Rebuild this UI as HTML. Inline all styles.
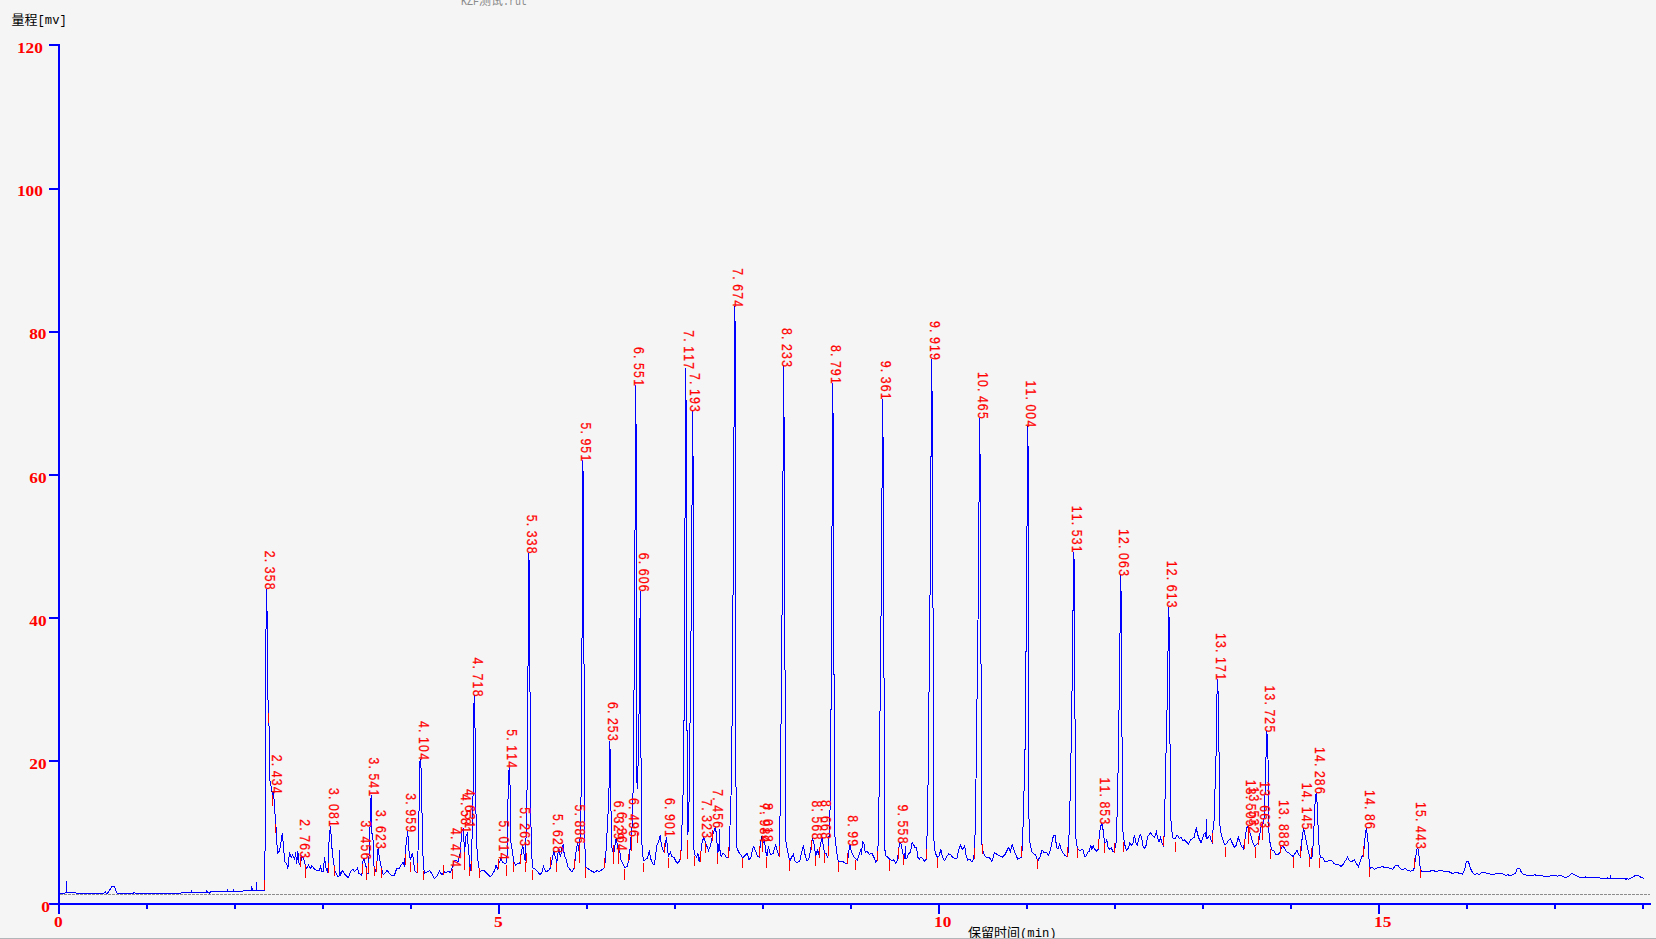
<!DOCTYPE html>
<html lang="zh">
<head>
<meta charset="utf-8">
<title>KZF测试.rut</title>
<style>
html,body{margin:0;padding:0;background:#f5f5f5;overflow:hidden}
body{width:1656px;height:939px;position:relative;font-family:"Liberation Sans","Noto Sans CJK SC",sans-serif}
svg{position:absolute;left:0;top:0;display:block}
.ax{fill:#0000ff;shape-rendering:crispEdges}
.tr{fill:none;stroke:#0000ff;stroke-width:1;shape-rendering:crispEdges;stroke-linejoin:miter}
.mk{fill:none;stroke:#ff0000;stroke-width:1;shape-rendering:crispEdges}
.bl{stroke:#8c8c8c;stroke-width:1;stroke-dasharray:3 1;shape-rendering:crispEdges}
.num{font-family:"Liberation Serif",serif;font-weight:bold;font-size:15px;fill:#ff0000}
.pk{font-family:"Liberation Sans",sans-serif;font-size:14.5px;fill:#ff0000;stroke:#ff0000;stroke-width:0.25px}
.cap{font-family:"Liberation Mono","Noto Sans CJK SC",monospace;font-size:13px;fill:#000}
.asc{font-size:12.2px}
.ttl{font-family:"Liberation Mono","Noto Sans CJK SC",monospace;font-size:12px;fill:#8a8a8a}
</style>
</head>
<body>
<svg width="1656" height="939" viewBox="0 0 1656 939">
<rect width="1656" height="939" fill="#f5f5f5"/>
<text class="ttl" y="5.2"><tspan x="461" textLength="18" lengthAdjust="spacingAndGlyphs">KZF</tspan><tspan x="479" font-size="12">测试</tspan><tspan x="503" textLength="24" lengthAdjust="spacingAndGlyphs">.rut</tspan></text>
<text class="cap" x="11.5" y="23.5">量程<tspan class="asc">[mv]</tspan></text>
<line class="bl" x1="60" y1="894.5" x2="1650" y2="894.5"/>
<g class="ax">
<rect x="58" y="44" width="2" height="870"/>
<rect x="49" y="903" width="1602" height="2"/>
<rect x="49" y="44" width="9" height="2"/>
<rect x="49" y="188" width="9" height="2"/>
<rect x="49" y="331" width="9" height="2"/>
<rect x="49" y="474" width="9" height="2"/>
<rect x="49" y="617" width="9" height="2"/>
<rect x="49" y="760" width="9" height="2"/>
<rect x="146" y="905" width="2" height="4"/>
<rect x="234" y="905" width="2" height="4"/>
<rect x="322" y="905" width="2" height="4"/>
<rect x="410" y="905" width="2" height="4"/>
<rect x="498" y="905" width="2" height="9"/>
<rect x="586" y="905" width="2" height="4"/>
<rect x="674" y="905" width="2" height="4"/>
<rect x="762" y="905" width="2" height="4"/>
<rect x="850" y="905" width="2" height="4"/>
<rect x="938" y="905" width="2" height="9"/>
<rect x="1026" y="905" width="2" height="4"/>
<rect x="1114" y="905" width="2" height="4"/>
<rect x="1202" y="905" width="2" height="4"/>
<rect x="1290" y="905" width="2" height="4"/>
<rect x="1378" y="905" width="2" height="9"/>
<rect x="1466" y="905" width="2" height="4"/>
<rect x="1554" y="905" width="2" height="4"/>
<rect x="1642" y="905" width="2" height="4"/>
</g>
<polyline class="tr" points="59.4,891.9 60.4,893.8 61.8,893.3 63.9,893.8 66,892.2 66.4,880.8 66.7,892.2 75.7,892.2 76.4,893.3 103.5,893.3 105.6,891.2 106.2,893.3 107.6,893.1 109.7,889.9 112.2,886.1 114.6,886.1 115.3,889.9 117.4,893.3 133.3,893.3 134.3,892.2 135,893.3 180.6,893.3 181.7,892.2 191,892.2 191.4,891.2 191.9,892.2 206.2,892.2 206.7,889.9 207.2,892.2 209.7,893.1 211.1,891.2 227.1,891.2 227.5,890.1 228.1,891.2 233.1,891.2 233.6,890.1 234.2,891.2 242.8,891.2 243.3,890.3 251.1,890.3 251.4,887.1 252.8,890.3 256.2,890.3 256.5,881.9 256.8,890.3 264.6,890.3 264.6,863.2 265.6,833.2 265.6,650 266.8,588.6 267.4,650 268,700 269.9,749 269.9,780 271.3,788 272.3,794 273.3,791.7 274.2,801.3 275.3,818.6 276.6,833.2 277.3,853.2 278.6,852.5 279.9,849.2 282.3,833.2 283.3,843.9 284.6,861.2 286.6,863.8 287.9,868.5 289.5,852.5 291.2,857.2 292.6,854.5 294.6,859.9 295.6,852.5 296.6,863.8 297.9,851.2 298.6,862.5 300.2,865.2 301.9,855.9 303.6,858.5 305.2,865.2 306.5,868.5 308.5,865.2 310.5,868.5 311.9,865.8 313.9,868.5 316.5,870.5 319.2,870.5 320.5,866.5 321.8,871.8 323.2,871.8 324.5,857.2 325.8,867.8 327.8,873.2 329.2,837.2 330.5,825.9 331.8,846.5 333.2,859.9 335.2,871.8 337.8,876.5 339.1,875.8 339.5,849.9 340.1,875.8 342.5,870.5 345.1,874.5 348.5,877.8 350.5,871.8 353.1,869.2 354.5,871.8 355.8,870.5 357.8,867.8 358.4,873.2 361.8,875.2 363.1,859.9 363.8,858.5 365.8,865.2 367.1,873.2 368.4,873.2 369.8,833.2 371.1,795.3 371.8,833.2 372.8,833.2 373.8,865.2 375.7,871.8 377.1,859.9 378.1,847.9 379.7,859.9 381.7,869.2 383.1,874.5 385.1,873.2 387.1,870.5 389.7,873.8 392.4,875.8 394.4,875.2 397,867.8 399,869.2 401,865.2 403,862.5 404.4,866.5 406.1,843.9 407.7,831.2 409,850.5 410.3,859.9 412.3,853.2 413.7,859.9 414.3,870.5 417,873.2 418.3,843.9 419.7,780 419.9,763.2 420.1,759 420.7,763.2 421.7,780 422.3,843.9 423.4,862.5 424.3,873.2 426.3,872.5 429.6,870.5 431.6,873.2 434.3,878.5 437,875.8 439.6,871.2 440,871.8 442,875.2 444,871.8 446,872.5 448,871.2 450.6,872.5 452.2,867.8 454,861.2 456,859.9 458,862.5 460,854.5 462,830.6 463.3,829.2 464.6,851.9 466,835.9 467.3,833.2 468.2,846.5 469,854.5 469.9,871.8 471.3,862.5 472.6,819.9 473.3,780 473.8,712.4 474.2,695.5 474.8,712.4 475.7,780 476.2,833.2 477.3,854.5 478.6,866.5 479.9,871.8 481.9,870.5 483.9,870.5 486.6,873.2 489.9,876.5 491.9,875.2 494.6,870.5 495.9,865.2 497.5,868.5 499.2,862.5 501,858.5 502.5,862.5 504.5,863.2 505.9,863.8 507.2,854.5 508.1,793.3 508.9,784 509,770.6 509.1,767.2 509.6,772.4 510.3,793.3 510.8,841.2 512.5,851.9 513.9,862.5 515.9,865.2 517.9,863.2 519.9,863.2 521.4,851.9 522.8,845.2 524.1,854.5 525.2,861.2 526.2,833.2 527.2,780 528.1,655 528.5,559.5 528.5,552.7 528.5,559.5 529.5,561.5 529.8,655 530.5,780 531.2,843.9 532.5,867.8 534.5,868.5 537.2,871.2 539.8,874.5 541.8,873.2 543.5,866.5 545.8,871.8 548.5,870.5 550.5,867.8 552.5,857.2 553.8,851.9 555.1,855.9 556.8,862.5 558.2,851.9 559.1,849.2 560.4,857.2 561.8,849.2 563.1,844.5 564.4,855.9 566.4,859.9 567.8,866.5 569.8,869.2 571.8,871.8 573.8,869.2 575.1,859.9 576.4,849.2 577.7,842.5 579.1,851.9 580.4,833.2 581.3,780 582.2,604.2 582.5,469.9 582.5,460.3 582.5,469.9 583.5,471.9 583.8,604.2 584.4,780 584.8,843.9 585.7,866.5 587.7,868.5 590.4,870.5 594.4,872.5 597,870.5 599,871.8 601.7,869.8 604.4,867.8 605.7,857.2 607,833.2 608.4,806.6 609.3,780 609.4,748.5 609.5,740.6 610,748.5 610.7,780 611.1,819.9 611.7,846.5 613.7,854.5 615.4,842.5 616.3,837.9 617.7,847.9 619,851.9 619.7,850.5 621,859.9 623,863.8 625,867.8 627,866.5 629,859.9 630.3,846.5 631.1,835.9 631.8,834.6 632.6,806.6 633.4,780 634.9,562.8 635.5,396.9 635.5,385 635.5,423.5 636.5,425.5 636.6,562.8 636.9,780 637.3,789 637.9,770 638.7,745 640.3,590.7 641.1,780 641.3,833.2 642.7,855.9 644,861.2 645.3,859.2 647.3,858.5 649.3,850.5 650.6,858.5 652.6,863.2 654,865.2 655.3,858.5 656.6,846.5 658.6,841.2 660.2,835.2 661.3,843.9 662.6,849.2 664.2,851.9 665.6,842.5 666.6,837.2 667.5,849.2 668.6,856.5 670.3,851.9 671.9,856.5 673.9,857.2 675.9,861.2 677.9,863.2 679.9,859.9 681.3,849.2 682.6,804 683.7,780 684.9,553.5 685.5,380.5 685.5,368.1 685.5,399 686.5,401 686.7,553.5 687.1,780 687.9,834.6 688.7,819.9 689.4,780 691.6,577 692.5,422 692.5,410.9 692.5,455.2 693.5,457.2 693.5,577 693.2,780 693.5,846.5 694.8,854.5 696.6,857.2 697.9,853.2 699.2,861.8 700.6,854.5 701.9,843.9 703.6,837.2 705.2,841.2 706.5,845.2 708.5,850.5 710.3,846.5 711.9,838.6 713.2,833.2 714.5,829.2 715.6,826.6 716.5,837.2 717.9,851.9 718.8,850.5 719.5,829.2 720,850.5 721.2,857.2 722.5,853.2 724.5,854.5 726.5,857.9 728.5,857.9 729.4,846.5 730.5,809.3 731.6,780 733.6,519.4 734.5,320.4 734.5,306.2 734.5,320.4 735.5,322.4 735.5,519.4 735.6,780 736.4,793.3 736.6,846.5 738.5,851.9 740.5,854.5 742.5,857.9 744.5,855.9 747.1,853.2 749.1,859.9 751.1,857.2 752.5,849.2 753.8,846.5 755.8,851.9 757.8,856.5 759.1,857.2 760.4,843.9 761.8,835.9 763.1,842.5 764.4,839.9 765.8,851.9 767.1,855.9 768.4,846.5 769.8,852.5 771.1,854.5 773.1,853.2 774.4,849.2 775.7,844.5 777.1,850.5 779.1,855.9 779.7,839.9 780.5,780 782.6,552.3 783.5,378.4 783.5,366 783.5,415.7 784.5,417.7 784.7,552.3 785.3,780 785.7,839.9 787.7,851.9 789.7,861.2 791.7,857.2 793.4,853.9 795,861.2 797,862.5 799.7,861.2 801.7,851.9 803.4,845.2 805,854.5 807,861.2 809,858.5 810.3,851.9 811.7,842.5 812.7,838.6 814.3,845.2 815.7,855.9 817.3,850.5 818.3,854.5 819.7,847.9 821,842.5 822.1,837.2 823.4,846.5 824.7,853.2 826.3,853.9 827.9,857.9 829.2,833.2 830,810.6 830.6,780 831.9,561.5 832.5,394.7 832.5,382.8 832.5,412.6 833.5,414.6 833.7,561.5 834.3,780 835,837.2 836.7,851.9 838.3,861.2 839.6,861.6 840,861.4 842.7,861.4 845.3,863.2 847.3,863.8 848.7,851.9 850,845.2 851.3,851.9 853.3,855.9 855.3,858.5 857.3,860.5 859.3,854.5 860.6,849.2 861.3,854.5 862.6,841.9 864,843.9 865.3,852.5 867.3,851.2 869.3,854.5 871.9,853.2 873.9,857.2 875.7,861.8 877.3,860.5 878.3,839.9 879.3,780 881.5,570.3 882.5,410.1 882.5,398.7 882.5,435.9 883.5,437.9 883.7,570.3 884.3,780 884.6,847.9 885.9,855.9 887.9,857.2 889.9,859.2 891.9,860.5 893.9,859.9 895.9,863.2 897.5,859.9 898.6,849.2 899.9,842.5 901.2,843.9 902.5,852.5 903.9,857.2 904.9,858.5 905.2,846.5 905.6,858.5 907.2,857.9 908.5,853.9 910.5,851.9 912.1,842.5 913.9,845.2 915.2,847.9 916.5,847.9 917.9,857.2 919.2,859.2 920.5,857.2 922.5,858.5 924.5,861.2 926.2,859.2 927.2,830.6 928.1,780 930.5,548.4 931.5,371.5 931.5,358.9 931.5,390.5 932.5,392.5 932.8,548.4 933.6,780 934,841.2 935.2,852.5 937.2,857.2 939.1,855.9 940.9,849.2 942.5,857.2 944.5,860.5 946.5,857.2 948.5,853.9 950.5,854.5 952.5,857.2 954.5,858.5 957.1,857.9 958.4,850.5 960.4,845.2 962.4,849.2 963.8,847.9 964.8,845.9 965.8,854.5 967.8,859.9 969.8,859.2 971.8,861.8 973.8,859.2 975.1,833.2 976,780 978.5,580.8 979.5,428.7 979.5,417.8 979.5,453.1 980.5,455.1 980.8,580.8 981.3,780 981.7,842.5 983.1,851.9 985.1,855.9 987.1,857.9 989.1,857.2 991.7,861.2 993,858.5 994.4,852.5 997,854.5 999.7,855.9 1002.4,857.2 1005,854.5 1007,850.5 1008.8,847.2 1010.3,851.9 1012.3,843.9 1013.7,849.2 1015.7,854.5 1017.7,859.2 1019.7,858.5 1021.3,857.2 1022.6,845.2 1023.7,796 1024.7,780 1026.7,585.5 1027.5,436.9 1027.5,426.3 1027.5,444.9 1028.5,446.9 1028.5,585.5 1028.3,780 1028.7,806.6 1029.6,841.2 1031.6,851.2 1033.6,853.9 1035.6,854.5 1037.6,861.2 1039,858.5 1040,857.2 1042,849.9 1044,852.5 1046,851.9 1048.7,855.2 1050.6,849.2 1052.6,838.6 1054,835.2 1055.3,835.9 1056.6,847.9 1058,849.2 1059.7,843.9 1061,849.2 1063.3,853.2 1065.3,855.9 1067.3,856.5 1068.6,849.2 1069.5,818.6 1070.6,780 1072.6,654.4 1073.5,558.5 1073.5,551.6 1073.5,558.5 1074.5,560.5 1074.7,654.4 1075.3,780 1075.7,837.2 1077.3,847.9 1079.3,850.5 1081.3,849.9 1082.9,849.9 1084.6,856.5 1086.3,855.9 1087.9,851.9 1089.5,851.2 1090.6,845.2 1091.9,849.2 1093.2,845.9 1094.6,849.2 1096.6,851.2 1098.3,849.2 1099.2,835.9 1100.6,826.6 1101.9,823.3 1103.2,830.6 1104.5,842.5 1105.9,842.5 1106.5,838.6 1107.9,846.5 1109.2,849.2 1111.2,847.9 1112.9,851.2 1114.3,852.5 1115.2,846.5 1116.1,842.5 1116.9,821.3 1117.9,780 1119.7,667.2 1120.5,581.1 1120.5,575 1120.5,590.4 1121.5,592.4 1121.7,667.2 1122.2,780 1122.8,830.6 1123.8,838.6 1125.2,846.5 1126.5,849.9 1128.5,847.9 1129.8,842.5 1131.8,845.9 1133.2,842.5 1134.5,834.6 1135.6,842.5 1137.2,845.2 1139.1,837.2 1140.5,834.6 1141.8,838.6 1143.1,846.5 1144.5,848.5 1146.2,845.2 1147.5,837.2 1149.1,834.6 1150.5,832.6 1152.5,835.9 1154.5,837.2 1156.4,831.9 1157.8,838.6 1159.1,841.9 1160.4,837.2 1161.8,842.5 1163.5,845.9 1164.4,830.6 1165.4,780 1167.6,684.7 1168.5,611.9 1168.5,606.7 1168.5,615.8 1169.5,617.8 1169.7,684.7 1170.2,780 1170.7,817.3 1171.8,830.6 1173.1,838.6 1175.1,838.6 1176.4,835.9 1177.7,835.2 1179.1,838.6 1181.1,837.2 1183.1,841.2 1184.4,839.9 1186.4,841.9 1188.4,843.9 1190.4,839.9 1192.4,838.6 1194.4,837.2 1195.4,830.6 1196.4,828.6 1197.7,834.6 1199,838.6 1201,842.5 1202.4,838.6 1204.4,833.2 1205.7,832.6 1206.1,838.6 1206.4,818.6 1206.8,838.6 1208.4,837.2 1209.7,835.2 1211,839.9 1212.3,842.5 1213,830.6 1214.1,819.9 1214.7,793.3 1215.7,780 1216.8,699.2 1217.6,679 1218.3,699.2 1219.4,780 1219.9,825.2 1221,833.2 1223,839.9 1225,845.2 1226.3,843.9 1228.3,840.6 1230.3,838.6 1232.3,843.2 1234.3,847.2 1236.3,845.2 1238.3,836.6 1239.6,841.9 1240,841.9 1241.3,845.9 1243.3,848.5 1244.7,841.2 1246,831.9 1247.3,825.9 1248.7,830.6 1250,832.6 1251.3,837.2 1252.6,842.5 1254.6,845.9 1256.6,844.5 1258.6,842.5 1260,833.2 1261.3,825.2 1262.6,822.6 1263.7,823.9 1264.6,806.6 1265.6,780 1266.3,741 1266.8,731.3 1267.5,741 1268.6,780 1269,833.2 1270.3,845.2 1271.9,849.9 1273.9,850.5 1275.9,854.5 1277.9,854.5 1279.9,852.5 1281.3,847.9 1282.9,845.9 1284.6,848.5 1286.6,851.9 1288.6,852.5 1290.6,854.5 1293.2,856.5 1295.2,853.2 1297,850.5 1298.6,854.5 1300.2,856.5 1301.2,849.2 1302.3,835.9 1303.6,828.6 1304.9,834.6 1306.5,842.5 1308.5,851.9 1310.3,858.5 1311.9,857.9 1313.2,843.9 1314.3,819.9 1315.2,800 1316.1,793.3 1317.2,804 1318.3,833.2 1319.6,854.5 1321.2,857.9 1322.5,857.2 1324.5,861.2 1326.5,861.8 1329.2,860.5 1331.8,860.5 1333.8,863.2 1335.8,864.5 1338.5,864.5 1341.1,866.5 1343.1,864.5 1345.1,861.2 1347.5,857.2 1349.1,860.5 1351.1,861.8 1354.2,859.9 1356.4,863.8 1358.4,866.5 1360.4,861.2 1362.2,855.9 1363.5,856.5 1364.4,843.9 1365.8,830.6 1366.4,827.9 1367.8,838.6 1369.1,859.9 1370.2,868.5 1372,867.2 1374.4,869.2 1377.1,867.8 1379.7,867.8 1382.4,866.5 1385.1,867.8 1387.7,867.2 1390.4,868.5 1393,869.2 1395,865.8 1397.7,865.2 1399.7,867.8 1402.4,869.8 1405,868.5 1407.7,870.5 1410.3,871.2 1413,870.5 1414.3,867.8 1415.7,857.2 1417,849.2 1417.9,847.9 1419,855.9 1420.3,868.5 1421.7,871.2 1425,871.8 1429,871.8 1431.6,870.5 1435.6,871.2 1436,871.5 1439.3,870.5 1442,870.5 1444,871.5 1448,871.2 1449.9,872.2 1452.6,873.5 1455.3,872.2 1457.9,872.8 1459.9,873.5 1462.6,874.2 1464.6,870.2 1466.3,861.5 1468.5,861.5 1469.9,866.9 1471.9,871.5 1474.5,874.4 1477.2,873.5 1479.2,874.4 1482.5,872.2 1485.2,872.8 1488.5,873.5 1490.5,874.4 1494.5,874.2 1497.1,873.1 1501.1,873.5 1503.8,874.4 1505.7,875.2 1507.7,874.8 1510.4,875.5 1513.1,874.8 1515.7,872.8 1517.3,868.6 1519.7,868.6 1521,871.5 1523,874.2 1526.3,875.2 1533.6,875.2 1534.6,874.4 1535.6,875.2 1542.3,875.5 1543.6,876.2 1549.6,876.2 1550.9,875.2 1555.6,875.5 1557.6,876.2 1559.6,875.2 1562.2,876.2 1565.5,877.5 1568.9,876.2 1571.5,873.5 1573.5,874.2 1576.8,875.8 1579.5,877.5 1584.8,877.5 1585.5,876.6 1586.1,877.5 1599.4,877.5 1600.7,878.4 1606.7,878.4 1607.4,877.5 1608,878.4 1610,878.4 1610.3,874.8 1610.6,878.4 1624.7,878.4 1626,879.5 1627.3,878.4 1628.6,879.2 1631.3,877.9 1634,876.2 1636.6,875.2 1638.6,875.8 1641.3,877.5 1643.9,878.4"/>
<path class="mk" d="M264.5 880V890M272.5 795V806M275.5 824V833M300.5 857V867M305.5 865V878M328.5 863V873M334.5 866V876M362.5 864V874M366.5 868V880M368.5 863V873M374.5 867V876M376.5 861V872M381.5 868V878M405.5 854V865M410.5 862V872M417.5 863V873M423.5 871V880M443.5 865V875M452.5 869V879M464.5 852V870M469.5 867V876M471.5 861V871M479.5 868V878M498.5 859V869M506.5 865V876M513.5 862V872M520.5 854V864M525.5 862V872M526.5 853V863M532.5 870V880M550.5 857V867M556.5 863V872M574.5 859V869M579.5 845V863M585.5 867V878M604.5 858V868M613.5 845V864M618.5 845V864M624.5 869V880M628.5 854V861M631.5 836V851M637.5 833V843M643.5 863V872M664.5 843V853M668.5 858V868M680.5 850V860M687.5 840V859M694.5 856V866M700.5 851V862M705.5 843V853M712.5 830V841M717.5 853V864M728.5 847V858M742.5 858V868M759.5 846V857M762.5 841V852M766.5 857V868M779.5 846V857M789.5 860V871M811.5 840V850M815.5 856V866M819.5 847V858M824.5 853V863M828.5 846V856M838.5 862V872M847.5 853V864M855.5 860V870M877.5 851V861M889.5 860V871M898.5 848V859M903.5 855V865M926.5 849V859M937.5 858V868M974.5 848V859M982.5 844V854M1021.5 846V857M1037.5 859V869M1067.5 847V857M1077.5 848V858M1098.5 839V849M1104.5 843V853M1114.5 843V853M1123.5 842V852M1163.5 836V846M1175.5 842V852M1212.5 833V843M1225.5 847V857M1244.5 839V849M1248.5 826V844M1255.5 847V858M1258.5 836V845M1262.5 823V840M1270.5 849V859M1280.5 845V853M1293.5 857V868M1300.5 846V857M1309.5 857V867M1311.5 848V857M1319.5 858V868M1363.5 846V857M1369.5 867V877M1414.5 858V868M1420.5 869V878M264.5 880V890M268.5 713V723"/>
<g class="pk">
<text transform="translate(265.1 588.6) rotate(90) scale(0.85 1)" x="-44.6 -35.2 -25.8 -16.4 -6.9" y="0">2.358</text>
<text transform="translate(271.5 792.6) rotate(90) scale(0.85 1)" x="-44.6 -35.2 -25.8 -16.4 -6.9" y="0">2.434</text>
<text transform="translate(300.4 857.2) rotate(90) scale(0.85 1)" x="-44.6 -35.2 -25.8 -16.4 -6.9" y="0">2.763</text>
<text transform="translate(328.6 825.9) rotate(90) scale(0.85 1)" x="-44.6 -35.2 -25.8 -16.4 -6.9" y="0">3.081</text>
<text transform="translate(361.4 858.5) rotate(90) scale(0.85 1)" x="-44.6 -35.2 -25.8 -16.4 -6.9" y="0">3.456</text>
<text transform="translate(369.2 795.3) rotate(90) scale(0.85 1)" x="-44.6 -35.2 -25.8 -16.4 -6.9" y="0">3.541</text>
<text transform="translate(376.3 847.9) rotate(90) scale(0.85 1)" x="-44.6 -35.2 -25.8 -16.4 -6.9" y="0">3.623</text>
<text transform="translate(405.9 831.2) rotate(90) scale(0.85 1)" x="-44.6 -35.2 -25.8 -16.4 -6.9" y="0">3.959</text>
<text transform="translate(418.5 759) rotate(90) scale(0.85 1)" x="-44.6 -35.2 -25.8 -16.4 -6.9" y="0">4.104</text>
<text transform="translate(451 866) rotate(90) scale(0.85 1)" x="-44.6 -35.2 -25.8 -16.4 -6.9" y="0">4.474</text>
<text transform="translate(460.9 832) rotate(90) scale(0.85 1)" x="-44.6 -35.2 -25.8 -16.4 -6.9" y="0">4.581</text>
<text transform="translate(465.1 827) rotate(90) scale(0.85 1)" x="-44.6 -35.2 -25.8 -16.4 -6.9" y="0">4.631</text>
<text transform="translate(472.5 695.5) rotate(90) scale(0.85 1)" x="-44.6 -35.2 -25.8 -16.4 -6.9" y="0">4.718</text>
<text transform="translate(498.5 858.5) rotate(90) scale(0.85 1)" x="-44.6 -35.2 -25.8 -16.4 -6.9" y="0">5.014</text>
<text transform="translate(507.4 767.2) rotate(90) scale(0.85 1)" x="-44.6 -35.2 -25.8 -16.4 -6.9" y="0">5.114</text>
<text transform="translate(520.4 845.2) rotate(90) scale(0.85 1)" x="-44.6 -35.2 -25.8 -16.4 -6.9" y="0">5.263</text>
<text transform="translate(527 552.7) rotate(90) scale(0.85 1)" x="-44.6 -35.2 -25.8 -16.4 -6.9" y="0">5.338</text>
<text transform="translate(552.6 851.9) rotate(90) scale(0.85 1)" x="-44.6 -35.2 -25.8 -16.4 -6.9" y="0">5.628</text>
<text transform="translate(575.3 842.5) rotate(90) scale(0.85 1)" x="-44.6 -35.2 -25.8 -16.4 -6.9" y="0">5.886</text>
<text transform="translate(581.2 460.3) rotate(90) scale(0.85 1)" x="-44.6 -35.2 -25.8 -16.4 -6.9" y="0">5.951</text>
<text transform="translate(607.8 739.8) rotate(90) scale(0.85 1)" x="-44.6 -35.2 -25.8 -16.4 -6.9" y="0">6.253</text>
<text transform="translate(614.3 838.6) rotate(90) scale(0.85 1)" x="-44.6 -35.2 -25.8 -16.4 -6.9" y="0">6.329</text>
<text transform="translate(617.3 849.9) rotate(90) scale(0.85 1)" x="-44.6 -35.2 -25.8 -16.4 -6.9" y="0">6.364</text>
<text transform="translate(628.9 835.9) rotate(90) scale(0.85 1)" x="-44.6 -35.2 -25.8 -16.4 -6.9" y="0">6.496</text>
<text transform="translate(633.8 385) rotate(90) scale(0.85 1)" x="-44.6 -35.2 -25.8 -16.4 -6.9" y="0">6.551</text>
<text transform="translate(638.6 590.7) rotate(90) scale(0.85 1)" x="-44.6 -35.2 -25.8 -16.4 -6.9" y="0">6.606</text>
<text transform="translate(664.6 835.9) rotate(90) scale(0.85 1)" x="-44.6 -35.2 -25.8 -16.4 -6.9" y="0">6.901</text>
<text transform="translate(683.6 368.1) rotate(90) scale(0.85 1)" x="-44.6 -35.2 -25.8 -16.4 -6.9" y="0">7.117</text>
<text transform="translate(690.3 410.9) rotate(90) scale(0.85 1)" x="-44.6 -35.2 -25.8 -16.4 -6.9" y="0">7.193</text>
<text transform="translate(701.7 837.2) rotate(90) scale(0.85 1)" x="-44.6 -35.2 -25.8 -16.4 -6.9" y="0">7.323</text>
<text transform="translate(713.4 827.2) rotate(90) scale(0.85 1)" x="-44.6 -35.2 -25.8 -16.4 -6.9" y="0">7.456</text>
<text transform="translate(732.6 306.2) rotate(90) scale(0.85 1)" x="-44.6 -35.2 -25.8 -16.4 -6.9" y="0">7.674</text>
<text transform="translate(760.3 841.4) rotate(90) scale(0.85 1)" x="-44.6 -35.2 -25.8 -16.4 -6.9" y="0">7.984</text>
<text transform="translate(763.3 840.9) rotate(90) scale(0.85 1)" x="-44.6 -35.2 -25.8 -16.4 -6.9" y="0">8.018</text>
<text transform="translate(781.8 366) rotate(90) scale(0.85 1)" x="-44.6 -35.2 -25.8 -16.4 -6.9" y="0">8.233</text>
<text transform="translate(812.4 838.5) rotate(90) scale(0.85 1)" x="-44.6 -35.2 -25.8 -16.4 -6.9" y="0">8.568</text>
<text transform="translate(821.3 838) rotate(90) scale(0.85 1)" x="-44.6 -35.2 -25.8 -16.4 -6.9" y="0">8.668</text>
<text transform="translate(830.8 382.8) rotate(90) scale(0.85 1)" x="-44.6 -35.2 -25.8 -16.4 -6.9" y="0">8.791</text>
<text transform="translate(848.4 845.2) rotate(90) scale(0.85 1)" x="-35.2 -25.8 -16.4 -6.9" y="0">8.99</text>
<text transform="translate(881 398.7) rotate(90) scale(0.85 1)" x="-44.6 -35.2 -25.8 -16.4 -6.9" y="0">9.361</text>
<text transform="translate(898.4 842.5) rotate(90) scale(0.85 1)" x="-44.6 -35.2 -25.8 -16.4 -6.9" y="0">9.558</text>
<text transform="translate(930.1 358.9) rotate(90) scale(0.85 1)" x="-44.6 -35.2 -25.8 -16.4 -6.9" y="0">9.919</text>
<text transform="translate(978.1 417.8) rotate(90) scale(0.85 1)" x="-54 -44.6 -35.2 -25.8 -16.4 -6.9" y="0">10.465</text>
<text transform="translate(1025.6 426.3) rotate(90) scale(0.85 1)" x="-54 -44.6 -35.2 -25.8 -16.4 -6.9" y="0">11.004</text>
<text transform="translate(1071.9 551.6) rotate(90) scale(0.85 1)" x="-54 -44.6 -35.2 -25.8 -16.4 -6.9" y="0">11.531</text>
<text transform="translate(1100.4 823.3) rotate(90) scale(0.85 1)" x="-54 -44.6 -35.2 -25.8 -16.4 -6.9" y="0">11.853</text>
<text transform="translate(1118.7 575) rotate(90) scale(0.85 1)" x="-54 -44.6 -35.2 -25.8 -16.4 -6.9" y="0">12.063</text>
<text transform="translate(1167.1 606.7) rotate(90) scale(0.85 1)" x="-54 -44.6 -35.2 -25.8 -16.4 -6.9" y="0">12.613</text>
<text transform="translate(1215.9 679) rotate(90) scale(0.85 1)" x="-54 -44.6 -35.2 -25.8 -16.4 -6.9" y="0">13.171</text>
<text transform="translate(1246.3 825.7) rotate(90) scale(0.85 1)" x="-54 -44.6 -35.2 -25.8 -16.4 -6.9" y="0">13.505</text>
<text transform="translate(1248.5 832.4) rotate(90) scale(0.85 1)" x="-54 -44.6 -35.2 -25.8 -16.4 -6.9" y="0">13.532</text>
<text transform="translate(1260.3 827.1) rotate(90) scale(0.85 1)" x="-54 -44.6 -35.2 -25.8 -16.4 -6.9" y="0">13.663</text>
<text transform="translate(1265.1 731.3) rotate(90) scale(0.85 1)" x="-54 -44.6 -35.2 -25.8 -16.4 -6.9" y="0">13.725</text>
<text transform="translate(1279.2 845.8) rotate(90) scale(0.85 1)" x="-54 -44.6 -35.2 -25.8 -16.4 -6.9" y="0">13.888</text>
<text transform="translate(1302.1 828.6) rotate(90) scale(0.85 1)" x="-54 -44.6 -35.2 -25.8 -16.4 -6.9" y="0">14.145</text>
<text transform="translate(1314.9 792.8) rotate(90) scale(0.85 1)" x="-54 -44.6 -35.2 -25.8 -16.4 -6.9" y="0">14.286</text>
<text transform="translate(1365 827.9) rotate(90) scale(0.85 1)" x="-44.6 -35.2 -25.8 -16.4 -6.9" y="0">14.86</text>
<text transform="translate(1416.3 847.9) rotate(90) scale(0.85 1)" x="-54 -44.6 -35.2 -25.8 -16.4 -6.9" y="0">15.443</text>
</g>
<g class="num">
<text x="16.9" y="53" textLength="26" lengthAdjust="spacingAndGlyphs">120</text>
<text x="16.9" y="196" textLength="26" lengthAdjust="spacingAndGlyphs">100</text>
<text x="29.2" y="339" textLength="17.3" lengthAdjust="spacingAndGlyphs">80</text>
<text x="29.3" y="483" textLength="17.3" lengthAdjust="spacingAndGlyphs">60</text>
<text x="29.3" y="626" textLength="17.3" lengthAdjust="spacingAndGlyphs">40</text>
<text x="29.3" y="769" textLength="17.3" lengthAdjust="spacingAndGlyphs">20</text>
<text x="41.3" y="912" textLength="8.7" lengthAdjust="spacingAndGlyphs">0</text>
<text x="54.1" y="927" textLength="8.7" lengthAdjust="spacingAndGlyphs">0</text>
<text x="494.1" y="927" textLength="8.7" lengthAdjust="spacingAndGlyphs">5</text>
<text x="934.1" y="927" textLength="17.3" lengthAdjust="spacingAndGlyphs">10</text>
<text x="1374.1" y="927" textLength="17.3" lengthAdjust="spacingAndGlyphs">15</text>
</g>
<text class="cap" x="968" y="937">保留时间<tspan class="asc">(min)</tspan></text>
<rect x="0" y="938" width="1656" height="1" fill="#b3b6b9"/>
</svg>
</body>
</html>
